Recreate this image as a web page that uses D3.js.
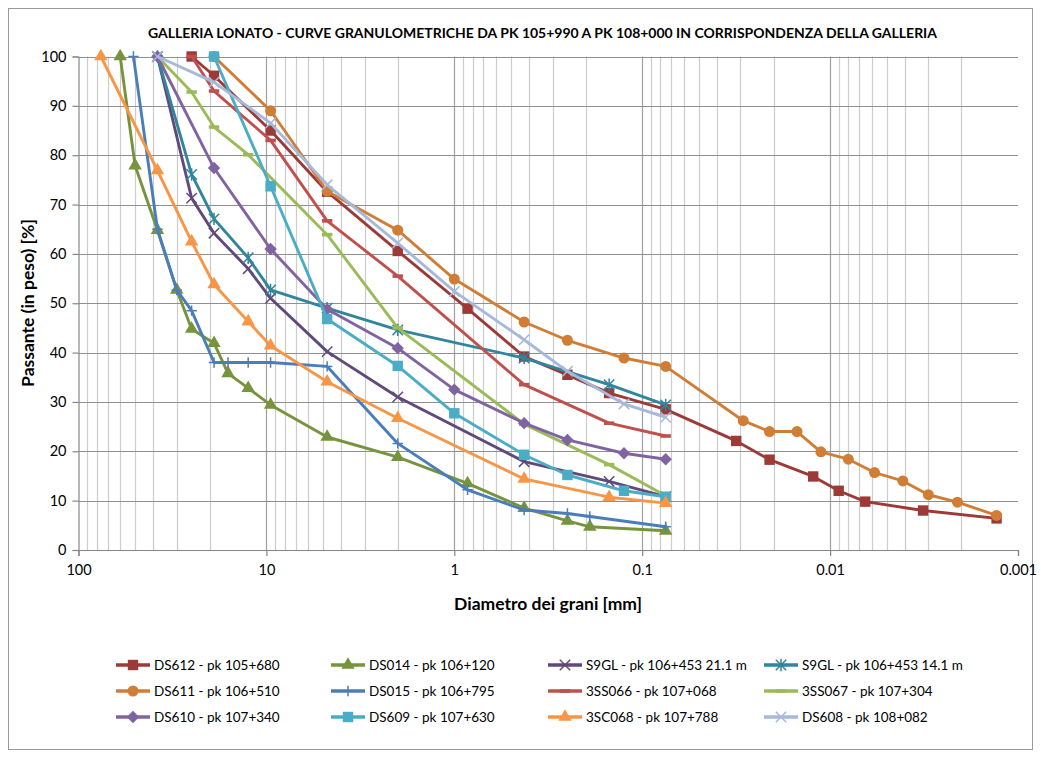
<!DOCTYPE html>
<html><head><meta charset="utf-8">
<script src="https://cdn.jsdelivr.net/npm/d3@7"></script>
<style>
body{margin:0;background:#fff;}
text{font-family:Lato,"Liberation Sans",sans-serif;fill:#000;}
</style></head>
<body><svg id="c" width="1041" height="758"></svg>
<script>
const chartTitle = "GALLERIA LONATO - CURVE GRANULOMETRICHE DA PK 105+990 A PK 108+000 IN CORRISPONDENZA DELLA GALLERIA";
const xTitle = "Diametro dei grani [mm]";
const yTitle = "Passante (in peso) [%]";
const xTicks = [100, 10, 1, 0.1, 0.01, 0.001];
const xTickLabels = ["100", "10", "1", "0.1", "0.01", "0.001"];
const yTicks = [0, 10, 20, 30, 40, 50, 60, 70, 80, 90, 100];

const seriesNames = ["DS612 - pk 105+680","DS014 - pk 106+120","S9GL - pk 106+453 21.1 m","S9GL - pk 106+453 14.1 m",
  "DS611 - pk 106+510","DS015 - pk 106+795","3SS066 - pk 107+068","3SS067 - pk 107+304",
  "DS610 - pk 107+340","DS609 - pk 107+630","3SC068 - pk 107+788","DS608 - pk 108+082"];

const dDS612 = [25, 19, 9.5, 4.75, 2.0, 0.85, 0.425, 0.25, 0.15, 0.075, 0.0316, 0.021, 0.0123, 0.009, 0.0065, 0.0032, 0.0013];
const pDS612 = [100, 96.1, 85.0, 72.6, 60.6, 48.9, 39.2, 35.5, 31.8, 28.5, 22.1, 18.3, 14.9, 12.0, 9.8, 8.0, 6.4];
const dDS014 = [60, 50, 38, 30, 25, 19, 16, 12.5, 9.5, 4.75, 2.0, 0.85, 0.425, 0.25, 0.19, 0.075];
const pDS014 = [100, 77.9, 64.8, 52.7, 44.8, 41.9, 35.8, 32.8, 29.4, 22.9, 18.8, 13.5, 8.5, 5.9, 4.7, 3.9];
const dS9GL21 = [38, 25, 19, 12.5, 9.5, 4.75, 2.0, 0.425, 0.15, 0.075];
const pS9GL21 = [100, 71.3, 64.2, 57.0, 51.0, 40.2, 31.0, 17.9, 13.9, 10.8];
const dS9GL14 = [38, 25, 19, 12.5, 9.5, 4.75, 2.0, 0.425, 0.15, 0.075];
const pS9GL14 = [100, 76.1, 67.1, 59.2, 52.7, 49.0, 44.6, 38.9, 33.5, 29.4];
const dDS611 = [19, 9.5, 4.75, 2.0, 1.0, 0.425, 0.25, 0.125, 0.075, 0.029, 0.021, 0.015, 0.0112, 0.008, 0.0058, 0.0041, 0.003, 0.0021, 0.0013];
const pDS611 = [100, 89.0, 72.7, 64.8, 54.9, 46.2, 42.5, 38.9, 37.2, 26.2, 24.0, 24.0, 19.9, 18.4, 15.7, 14.0, 11.2, 9.7, 7.0];
const dDS015 = [51, 38, 30, 25, 19, 16, 12.5, 9.5, 4.75, 2.0, 0.85, 0.425, 0.25, 0.19, 0.075];
const pDS015 = [100, 65.0, 52.7, 48.5, 38.0, 38.0, 38.0, 38.0, 37.2, 21.6, 12.2, 8.1, 7.4, 6.8, 4.7];
const d3SS066 = [25, 19, 9.5, 4.75, 2.0, 0.425, 0.15, 0.075];
const p3SS066 = [100, 93.0, 83.0, 66.7, 55.5, 33.5, 25.7, 23.1];
const d3SS067 = [38, 25, 19, 12.5, 4.75, 2.0, 0.425, 0.15, 0.075];
const p3SS067 = [100, 92.8, 85.7, 80.1, 63.9, 45.0, 25.5, 17.3, 11.0];
const dDS610 = [38, 19, 9.5, 4.75, 2.0, 1.0, 0.425, 0.25, 0.125, 0.075];
const pDS610 = [100, 77.4, 61.0, 48.8, 40.9, 32.5, 25.7, 22.3, 19.6, 18.4];
const dDS609 = [19, 9.5, 4.75, 2.0, 1.0, 0.425, 0.25, 0.125, 0.075];
const pDS609 = [100, 73.7, 46.8, 37.3, 27.7, 19.3, 15.2, 12.0, 10.8];
const d3SC068 = [76, 38, 25, 19, 12.5, 9.5, 4.75, 2.0, 0.425, 0.15, 0.075];
const p3SC068 = [100, 76.9, 62.5, 53.8, 46.3, 41.4, 34.1, 26.7, 14.4, 10.7, 9.5];
const dDS608 = [38, 19, 9.5, 4.75, 2.0, 1.0, 0.425, 0.25, 0.125, 0.075];
const pDS608 = [100, 94.8, 86.5, 74.0, 62.2, 52.4, 42.6, 36.2, 29.6, 26.9];

const seriesD = [dDS612, dDS014, dS9GL21, dS9GL14, dDS611, dDS015, d3SS066, d3SS067, dDS610, dDS609, d3SC068, dDS608];
const seriesP = [pDS612, pDS014, pS9GL21, pS9GL14, pDS611, pDS015, p3SS066, p3SS067, pDS610, pDS609, p3SC068, pDS608];
const seriesColors = ["#9B3A37","#77933C","#5F4A7B","#31859C","#D07D36","#4A7EBB","#C0504D","#9BBB59","#8064A2","#4BACC6","#F79646","#A7B9DA"];
const seriesMarkers = ["square","triangle","x","star","circle","plus","dash","dash","diamond","square","triangle","x"];

const svg = d3.select("#c");
const L = 78.5, R = 1018, T = 56.5, B = 550;
const x = d3.scaleLog().domain([100, 0.001]).range([L, R]);
const y = d3.scaleLinear().domain([0, 100]).range([B, T]);

// outer border
svg.append("rect").attr("x", 8.5).attr("y", 8.5).attr("width", 1024).attr("height", 741)
  .attr("fill", "#fff").attr("stroke", "#9a9a9a").attr("stroke-width", 1);

// minor vertical gridlines
const minor = [];
for (let e = -3; e < 2; e++) for (let k = 2; k <= 9; k++) minor.push(k * Math.pow(10, e));
const grid = svg.append("g");
grid.selectAll(".vmin").data(minor).enter().append("line")
  .attr("x1", d => Math.round(x(d)) + 0.5).attr("x2", d => Math.round(x(d)) + 0.5)
  .attr("y1", T).attr("y2", B).attr("stroke", "#cccccc").attr("stroke-width", 1.2);
grid.selectAll(".vmaj").data(xTicks.slice(1, 5)).enter().append("line")
  .attr("x1", d => Math.round(x(d)) + 0.5).attr("x2", d => Math.round(x(d)) + 0.5)
  .attr("y1", T).attr("y2", B).attr("stroke", "#a0a0a0").attr("stroke-width", 1.2);
grid.selectAll(".h").data(yTicks.slice(1)).enter().append("line")
  .attr("x1", L).attr("x2", R)
  .attr("y1", d => Math.round(y(d)) + 0.5).attr("y2", d => Math.round(y(d)) + 0.5)
  .attr("stroke", "#909090").attr("stroke-width", 1.2);

// axes
const xAxis = d3.axisBottom(x).tickValues(xTicks).tickFormat((d, i) => xTickLabels[i]).tickSizeOuter(0).tickSize(6).tickPadding(9);
const gx = svg.append("g").attr("transform", `translate(0,${B})`).call(xAxis);
const yAxis = d3.axisLeft(y).tickValues(yTicks).tickSizeOuter(0).tickSize(6).tickPadding(6);
const gy = svg.append("g").attr("transform", `translate(${L},0)`).call(yAxis);
[gx, gy].forEach(g => {
  g.selectAll("path,line").attr("stroke", "#868686").attr("stroke-width", 1.2);
  g.selectAll("text").style("font-size", "14.5px").style("font-family", "Lato, 'Liberation Sans', sans-serif").attr("fill", "#000");
});

// marker generator
function marker(g, type, color, s) {
  s = s || 1;
  const h = 5.2 * s;
  if (type === "square") g.append("rect").attr("x", -h).attr("y", -h).attr("width", 2 * h).attr("height", 2 * h).attr("fill", color);
  else if (type === "circle") g.append("circle").attr("r", h + 0.3).attr("fill", color);
  else if (type === "triangle") g.append("path").attr("d", d3.symbol(d3.symbolTriangle, 78 * s * s)()).attr("fill", color);
  else if (type === "diamond") g.append("path").attr("d", `M0,${-h - 1}L${h + 1},0L0,${h + 1}L${-h - 1},0Z`).attr("fill", color);
  else if (type === "x") g.append("path").attr("d", `M${-h},${-h}L${h},${h}M${-h},${h}L${h},${-h}`).attr("stroke", color).attr("stroke-width", 1.5).attr("fill", "none");
  else if (type === "star") g.append("path").attr("d", `M${-h},${-h}L${h},${h}M${-h},${h}L${h},${-h}M0,${-h - 1}L0,${h + 1}`).attr("stroke", color).attr("stroke-width", 1.5).attr("fill", "none");
  else if (type === "plus") g.append("path").attr("d", `M${-h},0L${h},0M0,${-h}L0,${h}`).attr("stroke", color).attr("stroke-width", 1.5).attr("fill", "none");
  else if (type === "dash") g.append("rect").attr("x", -h).attr("y", -1.8).attr("width", 2 * h).attr("height", 3.6).attr("fill", color);
}

// series
const line = d3.line().x(d => x(d[0])).y(d => y(d[1]));
const plot = svg.append("g");
seriesNames.forEach((name, i) => {
  const pts = seriesD[i].map((d, j) => [d, seriesP[i][j]]);
  const g = plot.append("g");
  g.append("path").attr("d", line(pts)).attr("fill", "none").attr("stroke", seriesColors[i])
    .attr("stroke-width", 2.9).attr("stroke-linejoin", "round");
  pts.forEach(p => {
    const m = g.append("g").attr("transform", `translate(${x(p[0])},${y(p[1])})`);
    marker(m, seriesMarkers[i], seriesColors[i]);
  });
});

// title
svg.append("text").attr("x", 542.5).attr("y", 38).attr("text-anchor", "middle")
  .attr("textLength", 789).attr("lengthAdjust", "spacingAndGlyphs")
  .style("font-size", "13.5px").style("font-weight", "bold").text(chartTitle);
svg.append("text").attr("x", 548).attr("y", 610).attr("text-anchor", "middle")
  .style("font-size", "17.5px").style("font-weight", "bold").text(xTitle);
svg.append("text").attr("transform", "translate(34,303) rotate(-90)").attr("text-anchor", "middle")
  .style("font-size", "17.5px").style("font-weight", "bold").text(yTitle);

// legend
const legCols = [133, 348, 565, 781];
const legRows = [665, 691, 717];
seriesNames.forEach((name, i) => {
  const cx = legCols[i % 4], cy = legRows[Math.floor(i / 4)];
  const g = svg.append("g").attr("transform", `translate(${cx},${cy})`);
  g.append("line").attr("x1", -17).attr("x2", 17).attr("y1", 0).attr("y2", 0)
    .attr("stroke", seriesColors[i]).attr("stroke-width", 3.5);
  marker(g, seriesMarkers[i], seriesColors[i]);
  g.append("text").attr("x", 21).attr("y", 5).style("font-size", "13.5px").text(name);
});
</script></body></html>
